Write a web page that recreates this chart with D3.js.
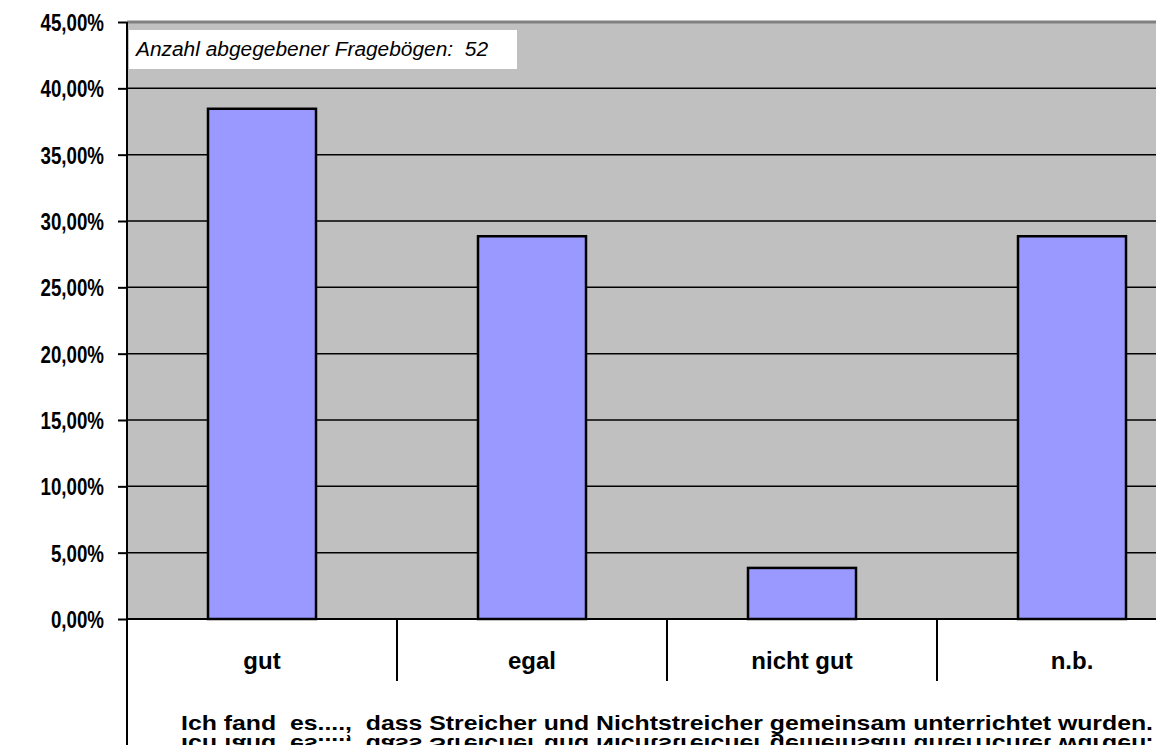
<!DOCTYPE html>
<html>
<head>
<meta charset="utf-8">
<script src="https://cdn.jsdelivr.net/npm/d3@7"></script>
<style>
  body { margin: 0; background: #fff; }
  svg { display: block; font-family: "Liberation Sans", Arial, sans-serif; }
</style>
</head>
<body>
<svg width="1156" height="745"></svg>
<script>
  let categories = ['gut', 'egal', 'nicht gut', 'n.b.']
  let values = [38.46, 28.85, 3.85, 28.85]
  let yTicks = [0, 5, 10, 15, 20, 25, 30, 35, 40, 45]
  let note = 'Anzahl abgegebener Fragebögen:  52'
  let axisTitle = 'Ich fand  es....,  dass Streicher und Nichtstreicher gemeinsam unterrichtet wurden.'

  let plotLeft = 127
  let plotRight = 1207   // plot runs past the window edge
  let plotTop = 22
  let plotBottom = 619

  let svg = d3.select('svg')

  /* Scales */
  let xScale = d3.scaleBand()
    .domain(categories)
    .range([plotLeft, plotRight])

  let yScale = d3.scaleLinear()
    .domain([0, 45])
    .range([plotBottom, plotTop])

  /* Plot background */
  svg.append('rect')
    .attr('x', plotLeft)
    .attr('y', plotTop)
    .attr('width', plotRight - plotLeft)
    .attr('height', plotBottom - plotTop)
    .attr('fill', '#c0c0c0')

  /* top border */
  svg.append('line')
    .attr('x1', plotLeft).attr('x2', plotRight)
    .attr('y1', plotTop).attr('y2', plotTop)
    .attr('stroke', '#808080')
    .attr('stroke-width', 3)

  /* gridlines */
  svg.append('g')
    .selectAll('line')
    .data(yTicks.filter(d => d > 0 && d < 45))
    .enter()
    .append('line')
      .attr('x1', plotLeft).attr('x2', plotRight)
      .attr('y1', d => yScale(d)).attr('y2', d => yScale(d))
      .attr('stroke', '#000')
      .attr('stroke-width', 1.5)

  /* Note box */
  svg.append('rect')
    .attr('x', 129)
    .attr('y', 30)
    .attr('width', 388)
    .attr('height', 39)
    .attr('fill', '#fff')

  svg.append('text')
    .attr('x', 136)
    .attr('y', 56)
    .attr('textLength', 352)
    .attr('lengthAdjust', 'spacingAndGlyphs')
    .style('font-size', '20px')
    .style('font-style', 'italic')
    .style('white-space', 'pre')
    .text(note)

  /* Bars */
  let barW = xScale.bandwidth() * 0.4
  svg.append('g')
    .selectAll('rect')
    .data(values)
    .enter()
    .append('rect')
      .attr('x', (d, i) => xScale(categories[i]) + xScale.bandwidth() / 2 - barW / 2)
      .attr('y', d => yScale(d))
      .attr('width', barW)
      .attr('height', d => yScale(0) - yScale(d))
      .attr('fill', '#9999ff')
      .attr('stroke', '#000')
      .attr('stroke-width', 2.5)

  /* y axis */
  let yAxis = d3.axisLeft(yScale)
    .tickValues(yTicks)
    .tickSize(9)
    .tickSizeOuter(0)
    .tickPadding(14)
    .tickFormat(d => d3.format('.2f')(d).replace('.', ',') + '%')

  let yG = svg.append('g')
    .attr('transform', `translate(${plotLeft}, 0)`)
    .call(yAxis)
  yG.select('.domain').remove()
  yG.selectAll('.tick line').attr('stroke', '#000').attr('stroke-width', 2)
  yG.selectAll('.tick text')
    .style('font-size', '24px')
    .style('font-weight', 'bold')
    .attr('fill', '#000')
    .attr('dy', '0.36em')
    .each(function () {
      /* labels in the reference are horizontally squeezed */
      let w = this.getComputedTextLength()
      d3.select(this)
        .attr('textLength', w * 0.78)
        .attr('lengthAdjust', 'spacingAndGlyphs')
    })

  /* left axis line runs down to the bottom */
  svg.append('line')
    .attr('x1', plotLeft).attr('x2', plotLeft)
    .attr('y1', plotTop).attr('y2', 745)
    .attr('stroke', '#000')
    .attr('stroke-width', 2)

  /* x baseline */
  svg.append('line')
    .attr('x1', plotLeft).attr('x2', plotRight)
    .attr('y1', plotBottom).attr('y2', plotBottom)
    .attr('stroke', '#000')
    .attr('stroke-width', 2)

  /* category separators */
  svg.append('g')
    .selectAll('line')
    .data(categories.slice(1))
    .enter()
    .append('line')
      .attr('x1', d => xScale(d)).attr('x2', d => xScale(d))
      .attr('y1', plotBottom).attr('y2', 681)
      .attr('stroke', '#000')
      .attr('stroke-width', 2)

  /* category labels */
  svg.append('g')
    .selectAll('text')
    .data(categories)
    .enter()
    .append('text')
      .attr('x', d => xScale(d) + xScale.bandwidth() / 2)
      .attr('y', 669)
      .attr('text-anchor', 'middle')
      .style('font-size', '24px')
      .style('font-weight', 'bold')
      .text(d => d)

  /* axis title */
  let mid = (plotLeft + plotRight) / 2
  svg.append('text')
    .attr('x', mid)
    .attr('y', 730)
    .attr('text-anchor', 'middle')
    .attr('textLength', 972)
    .attr('lengthAdjust', 'spacingAndGlyphs')
    .style('font-size', '21px')
    .style('font-weight', 'bold')
    .style('white-space', 'pre')
    .text(axisTitle)

  /* mirrored rendering artefact below the title */
  svg.append('text')
    .attr('transform', 'translate(0, 1468) scale(1, -1)')
    .attr('x', mid)
    .attr('y', 730)
    .attr('text-anchor', 'middle')
    .attr('textLength', 972)
    .attr('lengthAdjust', 'spacingAndGlyphs')
    .style('font-size', '21px')
    .style('font-weight', 'bold')
    .style('white-space', 'pre')
    .text(axisTitle)
</script>
</body>
</html>
